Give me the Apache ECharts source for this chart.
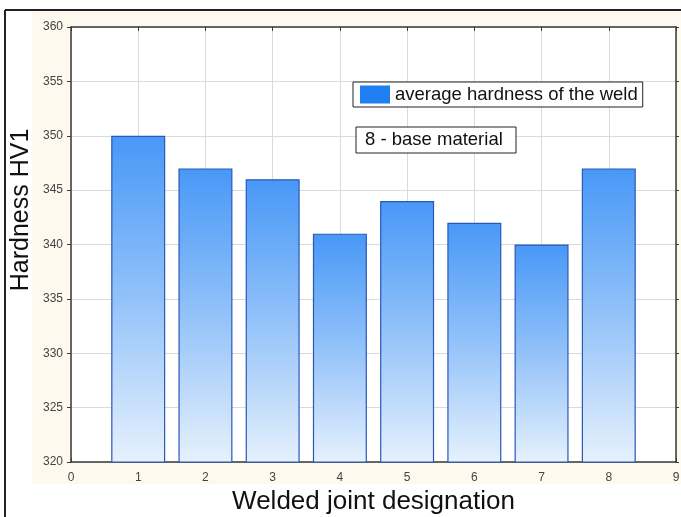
<!DOCTYPE html>
<html>
<head>
<meta charset="utf-8">
<script src="https://cdn.jsdelivr.net/npm/echarts@6/dist/echarts.min.js"></script>
<style>
html,body{margin:0;padding:0;background:#ffffff;}
#chart{width:681px;height:517px;}
</style>
</head>
<body>
<div id="chart"></div>
<script>
// ---- data ----
var joints = [1, 2, 3, 4, 5, 6, 7, 8];
var hardness = [350, 347, 346, 341, 344, 342, 340, 347];
var yMin = 320, yMax = 360, yStep = 5;
var xMin = 0, xMax = 9, xStep = 1;
var seriesName = 'average hardness of the weld';
var noteText = '8 - base material';
var xTitle = 'Welded joint designation';
var yTitle = 'Hardness HV1';

var FONT = 'Arial, "Liberation Sans", sans-serif';

var barData = joints.map(function (j, i) { return [j, hardness[i]]; });

var chart = echarts.init(document.getElementById('chart'), null, {renderer: 'canvas'});

var axisLineStyle = {color: '#3a3a3a', width: 1.5};

chart.setOption({
  animation: false,
  backgroundColor: '#ffffff',
  textStyle: {fontFamily: FONT},
  grid: {left: 71, right: 5, top: 27, bottom: 55, show: false, outerBoundsMode: 'none', containLabel: false},
  legend: {
    show: true,
    left: 353, top: 82,
    data: [{name: seriesName, icon: 'rect', itemStyle: {color: '#1f7ff0', borderWidth: 0}}],
    itemWidth: 30, itemHeight: 18,
    borderColor: '#222222', borderWidth: 1,
    padding: [3, 5, 3, 7],
    backgroundColor: '#ffffff',
    textStyle: {fontSize: 18.5, color: '#111111', fontFamily: FONT},
    selectedMode: false,
    z: 20
  },
  xAxis: [{
    type: 'value', min: xMin, max: xMax, interval: xStep, position: 'bottom',
    axisLine: {show: true, onZero: false, lineStyle: axisLineStyle},
    axisTick: {show: true, inside: true, length: 4, lineStyle: {color: '#3a3a3a'}},
    axisLabel: {fontSize: 12, color: '#444444', margin: 10, fontFamily: FONT},
    splitLine: {show: true, lineStyle: {color: '#dadada', width: 1}},
    name: xTitle, nameLocation: 'middle', nameGap: 26,
    nameTextStyle: {fontSize: 26, color: '#111111', fontFamily: FONT}
  }, {
    type: 'value', min: xMin, max: xMax, interval: xStep, position: 'top',
    axisLine: {show: true, onZero: false, lineStyle: axisLineStyle},
    axisTick: {show: true, inside: true, length: 4, lineStyle: {color: '#3a3a3a'}},
    axisLabel: {show: false},
    splitLine: {show: false}
  }],
  yAxis: [{
    type: 'value', min: yMin, max: yMax, interval: yStep, position: 'left',
    axisLine: {show: true, onZero: false, lineStyle: axisLineStyle},
    axisTick: {show: true, inside: false, length: 4, lineStyle: {color: '#3a3a3a'}},
    axisLabel: {fontSize: 12, color: '#444444', margin: 8, fontFamily: FONT},
    splitLine: {show: true, lineStyle: {color: '#dadada', width: 1}}
  }, {
    type: 'value', min: yMin, max: yMax, interval: yStep, position: 'right',
    axisLine: {show: true, onZero: false, lineStyle: axisLineStyle},
    axisTick: {show: true, inside: false, length: 3, lineStyle: {color: '#3a3a3a'}},
    axisLabel: {show: false},
    splitLine: {show: false}
  }],
  series: [{
    name: seriesName, type: 'bar', xAxisIndex: 0, yAxisIndex: 0,
    data: barData, barWidth: 54,
    itemStyle: {
      color: new echarts.graphic.LinearGradient(0, 0, 0, 1, [
        {offset: 0, color: '#4898f7'},
        {offset: 0.5, color: '#93c2f9'},
        {offset: 1, color: '#e6f1fd'}
      ]),
      borderColor: '#2a58b8', borderWidth: 1.2
    }
  }],
  graphic: [
    {type: 'rect', z: -10, silent: true, shape: {x: 32, y: 11, width: 660, height: 473}, style: {fill: '#fdf9ee'}},
    {type: 'rect', z: -9, silent: true, shape: {x: 71, y: 27, width: 605, height: 435}, style: {fill: '#ffffff'}},
    {type: 'line', z: 50, silent: true, shape: {x1: 5, y1: 10, x2: 681, y2: 10}, style: {stroke: '#222222', lineWidth: 2}},
    {type: 'line', z: 50, silent: true, shape: {x1: 5, y1: 10, x2: 5, y2: 517}, style: {stroke: '#222222', lineWidth: 2}},
    {type: 'text', z: 50, silent: true, x: 21, y: 210, rotation: Math.PI / 2,
      style: {text: yTitle, font: '25px ' + FONT, fill: '#111111', align: 'center', verticalAlign: 'middle'}},
    {type: 'rect', z: 50, silent: true, shape: {x: 356, y: 127, width: 160, height: 26}, style: {fill: '#ffffff', stroke: '#222222', lineWidth: 1}},
    {type: 'text', z: 51, silent: true, x: 365, y: 140, style: {text: noteText, font: '18.5px ' + FONT, fill: '#111111', verticalAlign: 'middle'}}
  ]
});
</script>
</body>
</html>
